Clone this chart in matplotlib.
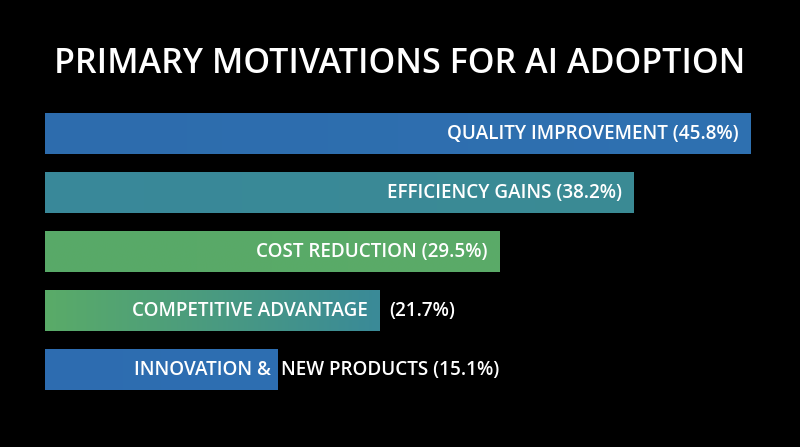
import numpy as np
import matplotlib
matplotlib.use("Agg")
import matplotlib.pyplot as plt
from matplotlib.colors import LinearSegmentedColormap

# data
categories = ["QUALITY IMPROVEMENT", "EFFICIENCY GAINS", "COST REDUCTION",
              "COMPETITIVE ADVANTAGE", "INNOVATION & NEW PRODUCTS"]
values = [45.8, 38.2, 29.5, 21.7, 15.1]
# text that sits inside the bar / text that spills out to the right
inside_text = ["QUALITY IMPROVEMENT (45.8%)", "EFFICIENCY GAINS (38.2%)",
               "COST REDUCTION (29.5%)", "COMPETITIVE ADVANTAGE", "INNOVATION &"]
outside_text = ["", "", "", "(21.7%)", "NEW PRODUCTS (15.1%)"]
# left -> right colours of each bar
bar_colors = [("#2d6cad", "#2f71b1"),
              ("#39889a", "#3b8b94"),
              ("#58a968", "#5bab68"),
              ("#5aab68", "#3a8a98"),
              ("#2d6cb0", "#2e6fb2")]

FONT = ["Open Sans", "DejaVu Sans"]


def gradient_bar(ax, y, width, height, c0, c1):
    cmap = LinearSegmentedColormap.from_list("g", [c0, c1])
    grad = np.linspace(0, 1, 256).reshape(1, -1)
    ax.imshow(grad, cmap=cmap, aspect="auto", interpolation="bicubic",
              extent=(0, width, y + height / 2, y - height / 2), zorder=2)


def main():
    fig = plt.figure(figsize=(8, 4.47), dpi=100, facecolor="black")
    ax = fig.add_axes([45 / 800, 47.5 / 447, 744 / 800, 295 / 447])
    ax.set_facecolor("black")

    ypos = np.arange(len(values))
    h = 0.68
    for i, (v, (c0, c1)) in enumerate(zip(values, bar_colors)):
        gradient_bar(ax, ypos[i], v, h, c0, c1)
        in_pad = 0.45 if i == 4 else 0.75
        ax.text(v - in_pad, ypos[i], inside_text[i], ha="right", va="center",
                color="white", fontsize=13.6, fontweight="semibold",
                family=FONT, zorder=3)
        if outside_text[i]:
            pad = 0.65 if i == 3 else 0.25
            ax.text(v + pad, ypos[i], outside_text[i], ha="left", va="center",
                    color="white", fontsize=13.6, fontweight="semibold",
                    family=FONT, zorder=3)

    ax.set_xlim(0, 48.3)
    ax.set_ylim(len(values) - 0.5, -0.5)
    ax.axis("off")

    fig.text(0.5, 1 - 64 / 447, "PRIMARY MOTIVATIONS FOR AI ADOPTION",
             ha="center", va="center", color="white", fontsize=24.5,
             fontweight="semibold", family=FONT)

    fig.savefig("out.png", dpi=100, facecolor="black")


if __name__ == '__main__':
    main()
